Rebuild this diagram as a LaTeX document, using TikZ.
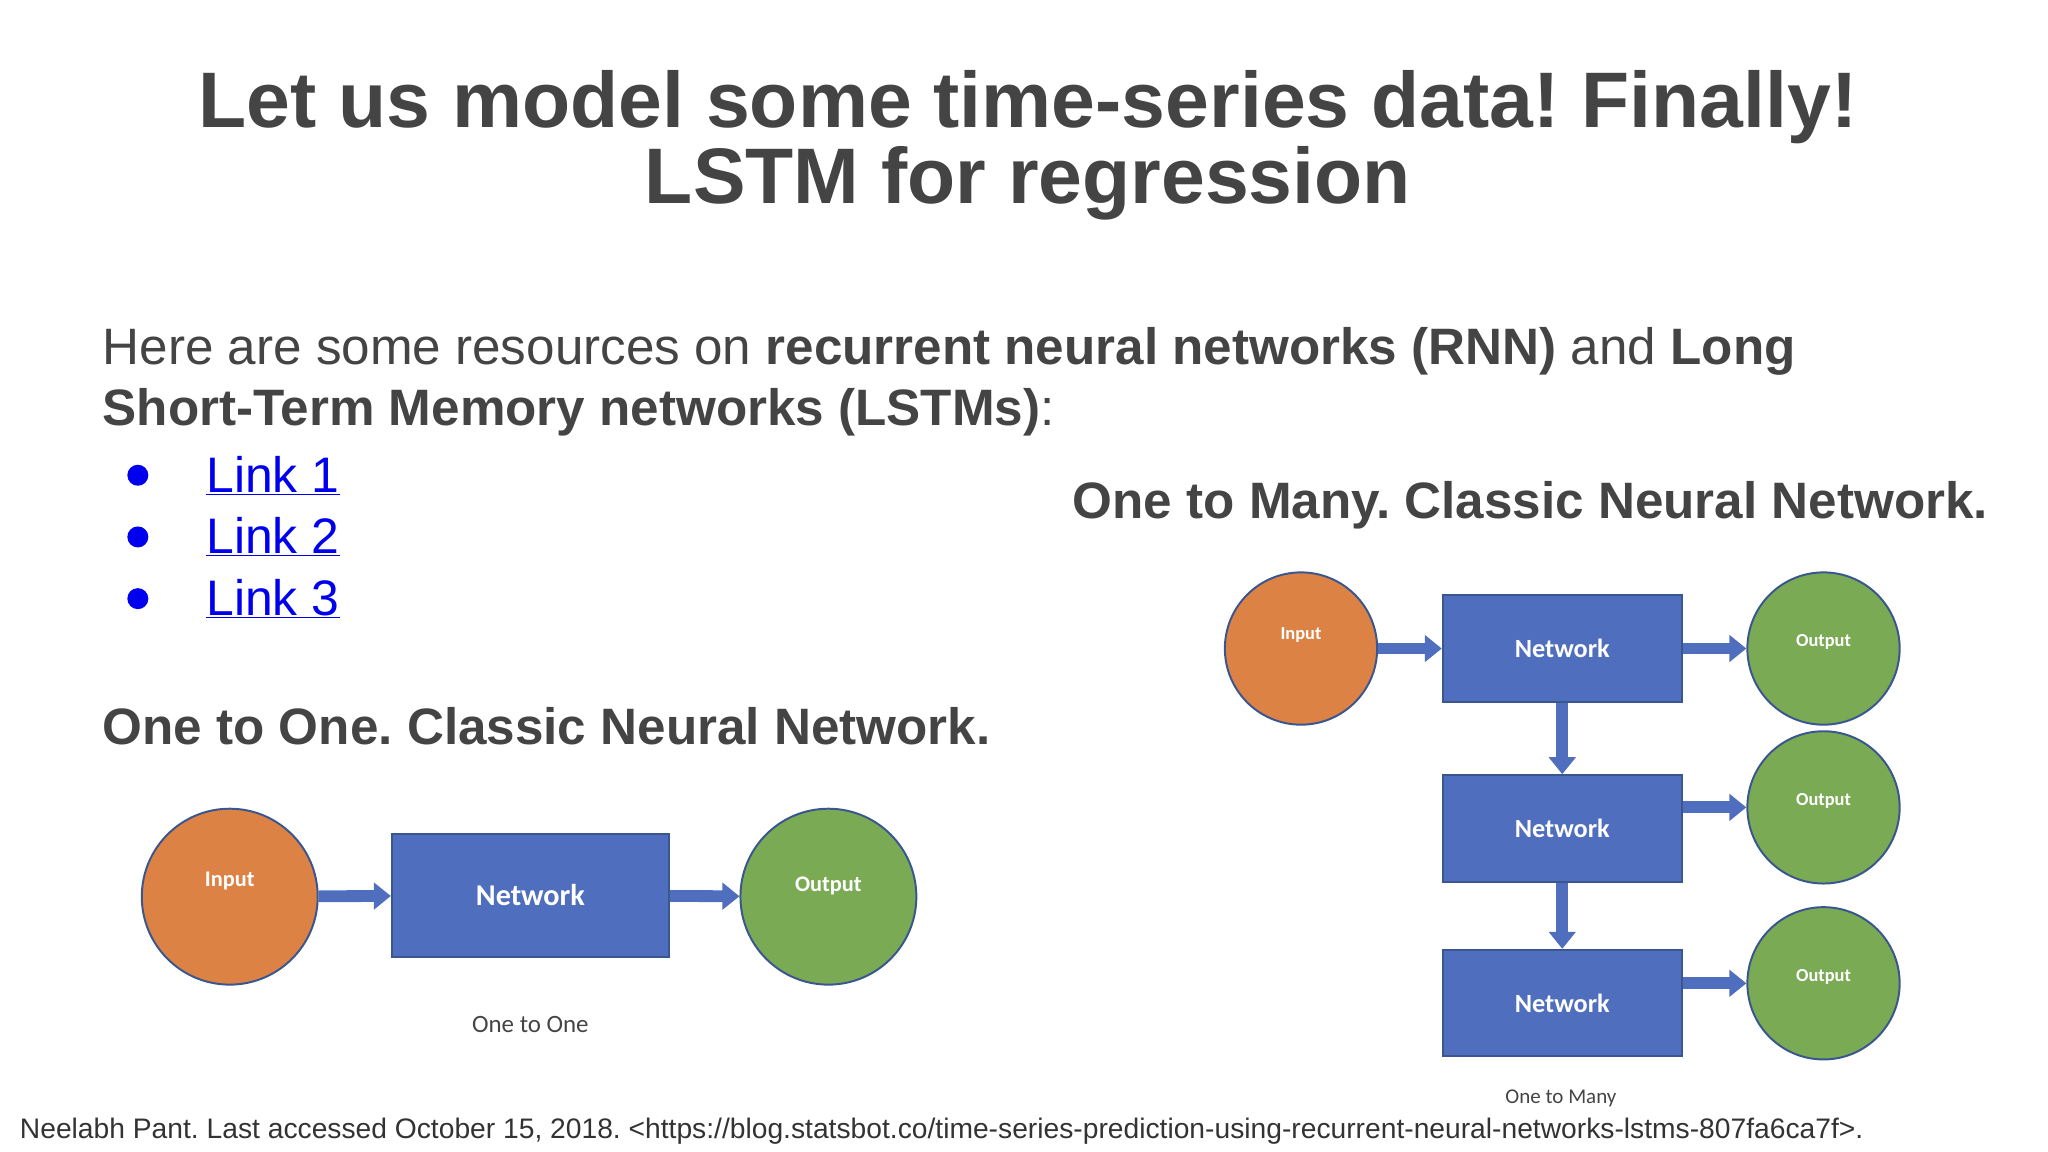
\documentclass[tikz,border=0pt]{standalone}
\usepackage{fontspec}
\setmainfont{Liberation Sans}
\newfontfamily\diagfont{Carlito}
\usetikzlibrary{positioning, arrows.meta}
\definecolor{slidegray}{HTML}{444444}
\definecolor{inorange}{HTML}{DD8245}
\definecolor{netblue}{HTML}{4F6EBD}
\definecolor{outgreen}{HTML}{7BAA55}
\definecolor{edgeblue}{HTML}{3A568F}
\definecolor{linkblue}{HTML}{0000EE}
\frenchspacing
\begin{document}
\begin{tikzpicture}[
	x=1pt, y=-1pt,
	txt/.style={inner sep=0pt, text=slidegray},
	inp/.style={circle, draw=edgeblue, line width=1.5pt, fill=inorange},
	outp/.style={circle, draw=edgeblue, line width=1.5pt, fill=outgreen},
	net/.style={rectangle, draw=edgeblue, line width=1.5pt, fill=netblue, text=white, font=\diagfont\bfseries},
	small/.style={text=white, font=\diagfont\bfseries\fontsize{14}{14}\selectfont},
	arrow/.style={-{Triangle[width=20pt,length=13pt]}, line width=9pt, draw=netblue},
	caption/.style={inner sep=0pt, text=slidegray, font=\diagfont\fontsize{19}{19}\selectfont}
	]
	\useasboundingbox (0,0) rectangle (1560,877.5);
	
	% Title and text
	\node[txt, font=\bfseries\fontsize{60}{58}\selectfont, align=center] (title) at (783,111) {Let us model some time-series data! Finally!\\LSTM for regression};
	\node[txt, anchor=north west, font=\fontsize{39}{47}\selectfont, align=left] (intro) at (78,249) {Here are some resources on \textbf{recurrent neural networks (RNN)} and \textbf{Long}\\\textbf{Short-Term Memory networks (LSTMs)}:};
	\foreach \i/\y in {1/362, 2/409, 3/456} {
		\fill[linkblue] (105,\y) circle (8);
		\node[txt, anchor=west, text=linkblue, font=\fontsize{38}{38}\selectfont] (link\i) at (157,\y) {\underline{Link \i}};
	}
	\node[txt, anchor=west, font=\bfseries\fontsize{39}{39}\selectfont] (headmany) at (817,385) {One to Many. Classic Neural Network.};
	\node[txt, anchor=west, font=\bfseries\fontsize{39}{39}\selectfont] (headone) at (78,553) {One to One. Classic Neural Network.};
	
	% One to one
	\node[inp, minimum size=134pt] (in1) at (175,683) {};
	\node[net, minimum width=211pt, minimum height=94pt, font=\diagfont\bfseries\fontsize{23}{23}\selectfont] (net1) at (404,682) {Network};
	\node[outp, minimum size=134pt] (out1) at (631,683) {};
	\node[small, font=\diagfont\bfseries\fontsize{17}{17}\selectfont] at ([yshift=12]in1.center) {Input};
	\node[small, font=\diagfont\bfseries\fontsize{17}{17}\selectfont] at ([yshift=8]out1.center) {Output};
	\draw[arrow] (in1) -- (net1);
	\draw[arrow] (net1) -- (out1);
	\node[caption] (cap1) at (404,780) {One to One};
	
	% One to many
	\node[inp, minimum size=116pt] (in2) at (991,494) {};
	\node[small] at ([yshift=10]in2.center) {Input};
	\foreach \i/\y in {1/494, 2/631, 3/764} {
		\node[net, minimum width=182pt, minimum height=81pt, font=\diagfont\bfseries\fontsize{20}{20}\selectfont] (netm\i) at (1190,\y) {Network};
	}
	\foreach \i/\y in {1/494, 2/615, 3/749} {
		\node[outp, minimum size=116pt] (outm\i) at (1389,\y) {};
		\node[small] at ([yshift=5]outm\i.center) {Output};
	}
	\draw[arrow] (in2) -- (netm1);
	\draw[arrow] (netm1) -- (netm2);
	\draw[arrow] (netm2) -- (netm3);
	\draw[arrow] (netm1.east) -- (outm1.west);
	\draw[arrow] (netm2.east |- outm2.west) -- (outm2.west);
	\draw[arrow] (netm3.east |- outm3.west) -- (outm3.west);
	\node[caption, font=\diagfont\fontsize{16}{16}\selectfont] (cap2) at (1189,837) {One to Many};
	
	% Footer
	\node[txt, anchor=west, text=black!80, font=\fontsize{21.5}{21.5}\selectfont] (cite) at (15,862) {Neelabh Pant. Last accessed October 15, 2018. <https://blog.statsbot.co/time-series-prediction-using-recurrent-neural-networks-lstms-807fa6ca7f>.};
\end{tikzpicture}
\end{document}
